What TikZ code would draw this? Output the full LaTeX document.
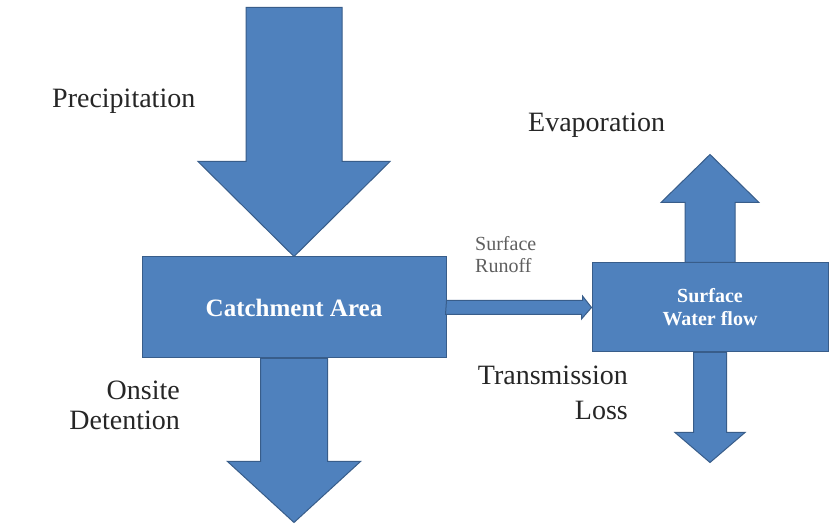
\documentclass[tikz,border=0pt]{standalone}
\usepackage{fontspec}
\setmainfont{Liberation Serif}
\usepackage{tikz}
\usetikzlibrary{calc}
\definecolor{flowblue}{RGB}{79,129,189}
\definecolor{flowedge}{RGB}{56,93,138}
\definecolor{runoffgray}{RGB}{95,95,95}

\begin{document}
\begin{tikzpicture}[x=1pt, y=1pt,
    areanode/.style={rectangle, draw=flowedge, fill=flowblue, line width=1pt, inner sep=0pt, align=center, text=white, font=\fontsize{25}{30}\selectfont\bfseries},
    blockarrow/.style={draw=flowedge, fill=flowblue, line width=1pt, line join=miter},
    flowtext/.style={inner sep=0pt, text=black!85, font=\fontsize{28}{34}\selectfont}
]
    \useasboundingbox (0,0) rectangle (833,524);
    \fill[white] (0,0) rectangle (833,524);

    % Boxes
    \node[areanode, minimum width=304pt, minimum height=101pt] (catch) at (294,216.5) {Catchment Area};
    \node[areanode, minimum width=236pt, minimum height=89pt, font=\fontsize{20}{23}\selectfont\bfseries] (water) at (710,216.5) {Surface\\Water flow};

    % Block arrows
    \draw[blockarrow] (catch.north) -- ++(-96,95) -- ++(48,0) -- ++(0,154) -- ++(96,0) -- ++(0,-154) -- ++(48,0) -- cycle;
    \draw[blockarrow] ($(catch.south)+(-33.5,0)$) -- ++(0,-103) -- ++(-33,0) -- ++(66.5,-61) -- ++(66.5,61) -- ++(-33,0) -- ++(0,103) -- cycle;
    \draw[blockarrow] ($(catch.east)+(0,7)$) -- ++(136,0) -- ++(0,4.5) -- (water.west) -- ++(-10,-11.5) -- ++(0,4.5) -- ++(-136,0) -- cycle;
    \draw[blockarrow] ($(water.north)+(-25,0)$) -- ++(0,60) -- ++(-24,0) -- ++(49,48) -- ++(49,-48) -- ++(-24,0) -- ++(0,-60) -- cycle;
    \draw[blockarrow] ($(water.south)+(-16.5,0)$) -- ++(0,-80) -- ++(-18.5,0) -- ++(35,-30) -- ++(35,30) -- ++(-18.5,0) -- ++(0,80) -- cycle;

    % Labels
    \node[flowtext, anchor=base west] (precip) at (52,416) {Precipitation};
    \node[flowtext, anchor=base west] (evap) at (528,392) {Evaporation};
    \node[flowtext, font=\fontsize{20}{22}\selectfont, text=runoffgray, align=left, anchor=base west] (runoff) at (475,251) {Surface\\Runoff};
    \node[flowtext, font=\fontsize{28}{35}\selectfont, align=right, anchor=base east] (transloss) at (628,104) {Transmission\\Loss};
    \node[flowtext, font=\fontsize{28}{30}\selectfont, align=right, anchor=base east] (onsite) at (180,94) {Onsite\\Detention};
\end{tikzpicture}
\end{document}
